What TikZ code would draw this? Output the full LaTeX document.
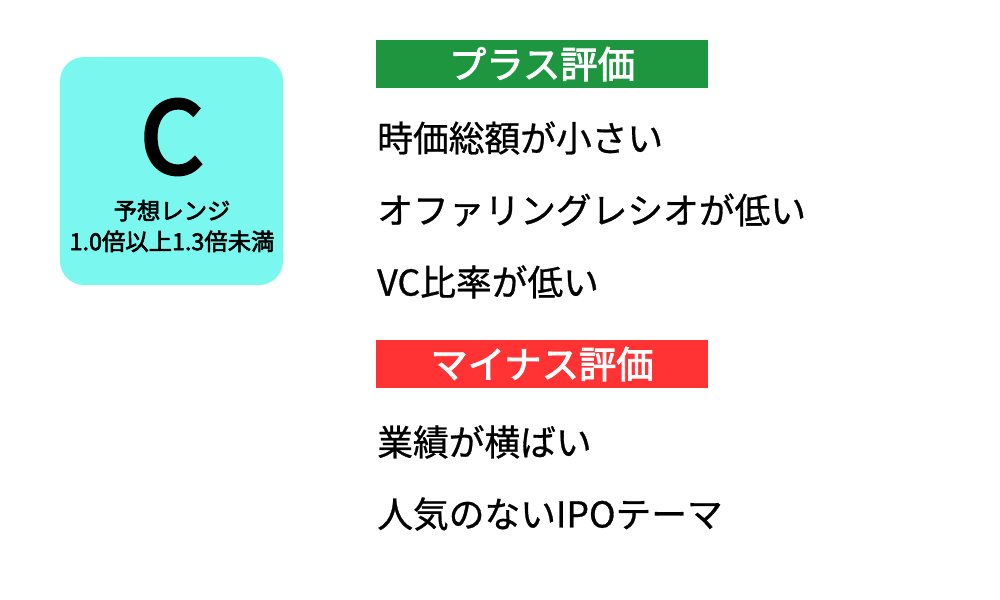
\documentclass[tikz,border=0pt]{standalone}
\usepackage{fontspec}
\setmainfont{Noto Sans CJK JP}[FakeBold=0.8]
\newfontfamily\jpbold{Noto Sans CJK JP}[FakeBold=2.5]
\newfontfamily\jpbig{Noto Sans CJK JP}[FakeBold=4]
\definecolor{teal1}{HTML}{7AF8F0}
\definecolor{grn}{HTML}{1E9640}
\definecolor{rd}{HTML}{FF3333}
\begin{document}
\begin{tikzpicture}[x=0.75pt,y=-0.75pt,
  item/.style={anchor=west,inner sep=0,font=\fontsize{26.8}{30}\selectfont},
  bar/.style={minimum width=249pt,minimum height=36pt,inner sep=0,text=white,font=\jpbold\fontsize{28}{30}\selectfont}]
\useasboundingbox (0,0) rectangle (1000,600);
\fill[teal1,rounded corners=18pt] (60,57) rectangle (283,285);
\node (c) at (172,137) {\jpbig\fontsize{74}{80}\selectfont C};
\node (sub) at (172,226) [align=center,font=\jpbold\fontsize{17.5}{23}\selectfont] {予想レンジ\\1.0倍以上1.3倍未満};
\node[bar,fill=grn] (plus) at (542,64) {プラス評価};
\node[item] (p1) at (377,138) {時価総額が小さい};
\node[item] (p2) at (377,210) {オファリングレシオが低い};
\node[item] (p3) at (377,282) {VC比率が低い};
\node[bar,fill=rd] (minus) at (542,364) {マイナス評価};
\node[item] (m1) at (377,442) {業績が横ばい};
\node[item] (m2) at (377,514) {人気のないIPOテーマ};
\end{tikzpicture}
\end{document}
